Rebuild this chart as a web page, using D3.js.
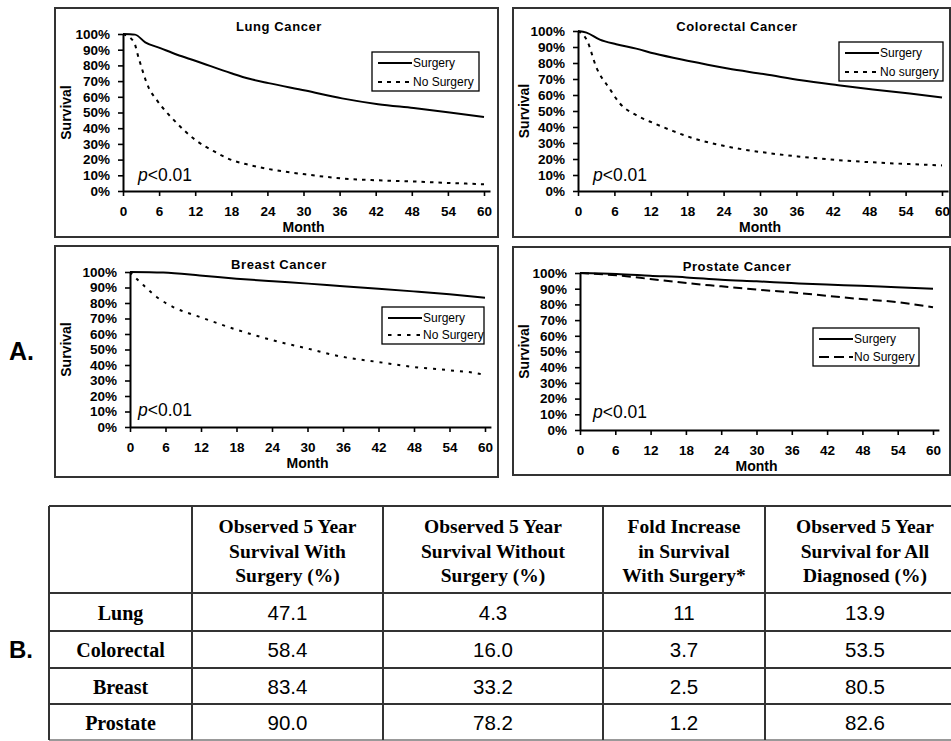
<!DOCTYPE html>
<html>
<head>
<meta charset="utf-8">
<script src="https://cdn.jsdelivr.net/npm/d3@7"></script>
<style>
  body { margin: 0; background: #fff; }
  svg { display: block; }
</style>
</head>
<body>
<svg id="chart" width="951" height="741"></svg>
<script>
// survival curves: [month, % surviving]
const lungSurgery = [[0,100],[2,99.6],[3.7,94.7],[6.2,91],[9,86.8],[12,83],[18,75],[21,71.5],[24.2,68.7],[30.3,64],[36.4,59],[42.4,55.3],[48.3,52.8],[54.3,50],[60,47.1]]
const lungNoSurgery = [[0,100],[1.8,95],[2.6,84.7],[4.3,65.5],[5.6,58],[9,43],[12,32.6],[15,25.5],[18,19.8],[21,16.6],[24.2,14],[30.3,10.6],[36.4,8],[42.4,6.8],[48.8,6],[54.3,5.1],[60,4.3]]

const colorectalSurgery = [[0,100],[1.4,99],[3.6,94.6],[6.3,91.7],[9.6,89],[12.6,85.9],[18.7,81],[24.7,76.5],[30.8,73],[36.8,69.2],[42.9,66.1],[48.6,63.4],[54.7,60.9],[60,58.4]]
const colorectalNoSurgery = [[0,100],[1.5,94],[3,77.5],[5.2,64],[6.9,54.7],[9.6,47.4],[12.6,42.2],[15.7,37.4],[18.7,33.3],[24.7,27.7],[30.8,24],[36.8,21.4],[42.9,19.3],[48.6,17.9],[54.7,16.8],[60,16]]

const breastSurgery = [[0,100],[5.6,99.6],[11.8,97.8],[18,95.7],[24.2,94],[30.1,92.5],[36,90.8],[42,89.2],[47.9,87.5],[54,85.6],[60,83.4]]
const breastNoSurgery = [[0,100],[0.8,96.8],[2.3,91.4],[4.5,83.9],[7.3,77.4],[11.8,71],[18,62.8],[24.2,55.9],[30.1,50.5],[36,45.2],[42,41.9],[47.9,38.7],[54,36.6],[59.4,34],[60,33.2]]

const prostateSurgery = [[0,100],[6.2,99.4],[11.9,98.3],[18.1,97.2],[24,95.7],[30,94.7],[35.9,93.6],[41.9,92.6],[47.8,91.9],[53.8,90.9],[60,90]]
const prostateNoSurgery = [[0,100],[6.2,98.5],[11.9,96.2],[18.1,93.6],[24,91.5],[30,89.4],[35.9,87.7],[41.9,85.5],[47.8,83.4],[53.8,81.5],[60,78.2]]

const monthTicks = [0,6,12,18,24,30,36,42,48,54,60]
const percentTicks = [0,10,20,30,40,50,60,70,80,90,100]

// table B
const tableHeaders = [
  [],
  ['Observed 5 Year','Survival With','Surgery (%)'],
  ['Observed 5 Year','Survival Without','Surgery (%)'],
  ['Fold Increase','in Survival','With Surgery*'],
  ['Observed 5 Year','Survival for All','Diagnosed (%)']
]
const cancers = ['Lung','Colorectal','Breast','Prostate']
const withSurgery = [47.1, 58.4, 83.4, 90.0]
const withoutSurgery = [4.3, 16.0, 33.2, 78.2]
const foldIncrease = [11, 3.7, 2.5, 1.2]
const allDiagnosed = [13.9, 53.5, 80.5, 82.6]

// panel layout (pixels)
const panels = [
  {title:'Lung Cancer', surg:lungSurgery, nosurg:lungNoSurgery, noLabel:'No Surgery',
   box:[55,8,498,237], x0:123, x60:484, y100:34, y0:191, titleX:279, titleY:31,
   legend:[372,52,107,39], dash:'3.5,5', legDash:'4,5', p:[138,181]},
  {title:'Colorectal Cancer', surg:colorectalSurgery, nosurg:colorectalNoSurgery, noLabel:'No surgery',
   box:[513,8,950,237], x0:578, x60:942, y100:31, y0:191, titleX:737, titleY:31,
   legend:[839,42,104,39], dash:'3.5,5', legDash:'4,5', p:[593,181]},
  {title:'Breast Cancer', surg:breastSurgery, nosurg:breastNoSurgery, noLabel:'No Surgery',
   box:[55,246,498,477], x0:130, x60:485, y100:272, y0:427, titleX:279, titleY:269,
   legend:[382,307,102,37], dash:'3,6', legDash:'3.5,6', p:[138,416]},
  {title:'Prostate Cancer', surg:prostateSurgery, nosurg:prostateNoSurgery, noLabel:'No Surgery',
   box:[513,247,950,475], x0:580, x60:933, y100:273, y0:430, titleX:737, titleY:271,
   legend:[813,328,106,38], dash:'9,5', legDash:'10,5', p:[593,418]}
]

const svg = d3.select('#chart')
const arial = '"Liberation Sans", Arial, sans-serif'
const times = '"Liberation Serif", "Times New Roman", serif'

panels.forEach(p => {
  const g = svg.append('g')

  // frame
  g.append('rect')
    .attr('x', p.box[0]).attr('y', p.box[1])
    .attr('width', p.box[2] - p.box[0]).attr('height', p.box[3] - p.box[1])
    .attr('fill', 'none').attr('stroke', '#333').attr('stroke-width', 2)

  const x = d3.scaleLinear().domain([0, 61]).range([p.x0, p.x0 + (p.x60 - p.x0) * 61 / 60])
  const y = d3.scaleLinear().domain([0, 100]).range([p.y0, p.y100])

  const xAxis = g.append('g')
    .attr('transform', `translate(0,${p.y0})`)
    .call(d3.axisBottom(x).tickValues(monthTicks).tickSize(5).tickPadding(10).tickSizeOuter(0))
  const yAxis = g.append('g')
    .attr('transform', `translate(${p.x0},0)`)
    .call(d3.axisLeft(y).tickValues(percentTicks).tickFormat(d => d + '%').tickSize(5).tickPadding(8).tickSizeOuter(0))

  ;[xAxis, yAxis].forEach(a => {
    a.select('.domain').attr('stroke', '#000').attr('stroke-width', 2)
    a.selectAll('.tick line').attr('stroke', '#000').attr('stroke-width', 1.6)
    a.selectAll('.tick text')
      .attr('fill', '#000')
      .style('font-family', arial).style('font-size', '13.5px').style('font-weight', 'bold')
  })

  // axis titles
  g.append('text')
    .attr('x', (p.x0 + p.x60) / 2).attr('y', p.y0 + 41)
    .attr('text-anchor', 'middle')
    .style('font-family', arial).style('font-size', '14px').style('font-weight', 'bold')
    .text('Month')
  g.append('text')
    .attr('transform', `translate(${p.box[0] + 16},${(p.y0 + p.y100) / 2}) rotate(-90)`)
    .attr('text-anchor', 'middle')
    .style('font-family', arial).style('font-size', '14px').style('font-weight', 'bold')
    .text('Survival')

  // title
  g.append('text')
    .attr('x', p.titleX).attr('y', p.titleY)
    .attr('text-anchor', 'middle')
    .style('font-family', arial).style('font-size', '13px').style('font-weight', 'bold')
    .style('letter-spacing', '0.6px')
    .text(p.title)

  // curves
  const line = d3.line().x(d => x(d[0])).y(d => y(d[1])).curve(d3.curveMonotoneX)
  g.append('path').datum(p.nosurg)
    .attr('d', line).attr('fill', 'none')
    .attr('stroke', '#000').attr('stroke-width', 2).attr('stroke-dasharray', p.dash)
  g.append('path').datum(p.surg)
    .attr('d', line).attr('fill', 'none')
    .attr('stroke', '#000').attr('stroke-width', 2)

  // p value
  const pt = g.append('text')
    .attr('x', p.p[0]).attr('y', p.p[1])
    .style('font-family', arial).style('font-size', '17.5px')
  pt.append('tspan').style('font-style', 'italic').text('p')
  pt.append('tspan').text('<0.01')

  // legend
  const [lx, ly, lw, lh] = p.legend
  g.append('rect')
    .attr('x', lx).attr('y', ly).attr('width', lw).attr('height', lh)
    .attr('fill', '#fff').attr('stroke', '#000').attr('stroke-width', 1.3)
  const rows = [{label:'Surgery', dash:null}, {label:p.noLabel, dash:p.legDash}]
  rows.forEach((r, i) => {
    const cy = ly + 11 + i * (lh - 20)
    g.append('line')
      .attr('x1', lx + 6).attr('x2', lx + 40).attr('y1', cy).attr('y2', cy)
      .attr('stroke', '#000').attr('stroke-width', 2)
      .attr('stroke-dasharray', r.dash)
    g.append('text')
      .attr('x', lx + 41).attr('y', cy + 4)
      .style('font-family', arial).style('font-size', '12px')
      .text(r.label)
  })
})

// panel letters
svg.append('text').attr('x', 9).attr('y', 360)
  .style('font-family', arial).style('font-size', '25px').style('font-weight', 'bold').text('A.')
svg.append('text').attr('x', 9).attr('y', 658)
  .style('font-family', arial).style('font-size', '24px').style('font-weight', 'bold').text('B.')

// table
const colEdges = [49, 192, 383, 603, 765, 965]
const rowEdges = [506, 593, 631, 668, 704, 740]
const tg = svg.append('g')

rowEdges.forEach((ry, i) => {
  tg.append('line')
    .attr('x1', colEdges[0]).attr('x2', colEdges[colEdges.length - 1])
    .attr('y1', ry).attr('y2', ry)
    .attr('stroke', i === rowEdges.length - 1 ? '#999' : '#333').attr('stroke-width', 2)
})
colEdges.forEach(cx => {
  tg.append('line')
    .attr('x1', cx).attr('x2', cx).attr('y1', rowEdges[0]).attr('y2', rowEdges[rowEdges.length - 1])
    .attr('stroke', '#333').attr('stroke-width', 2)
})

const colMid = i => (colEdges[i] + colEdges[i + 1]) / 2

tableHeaders.forEach((lines, c) => {
  lines.forEach((t, k) => {
    tg.append('text')
      .attr('x', colMid(c)).attr('y', 533 + k * 24.5)
      .attr('text-anchor', 'middle')
      .style('font-family', times).style('font-size', '19.5px').style('font-weight', 'bold')
      .text(t)
  })
})

const columns = [
  withSurgery.map(v => v.toFixed(1)),
  withoutSurgery.map(v => v.toFixed(1)),
  foldIncrease.map(v => String(v)),
  allDiagnosed.map(v => v.toFixed(1))
]

cancers.forEach((name, r) => {
  const base = (rowEdges[r + 1] + rowEdges[r + 2]) / 2 + 7.5
  tg.append('text')
    .attr('x', colMid(0)).attr('y', base)
    .attr('text-anchor', 'middle')
    .style('font-family', times).style('font-size', '20px').style('font-weight', 'bold')
    .text(name)
  columns.forEach((col, c) => {
    tg.append('text')
      .attr('x', colMid(c + 1)).attr('y', base)
      .attr('text-anchor', 'middle')
      .style('font-family', arial).style('font-size', '20.5px')
      .text(col[r])
  })
})
</script>
</body>
</html>
